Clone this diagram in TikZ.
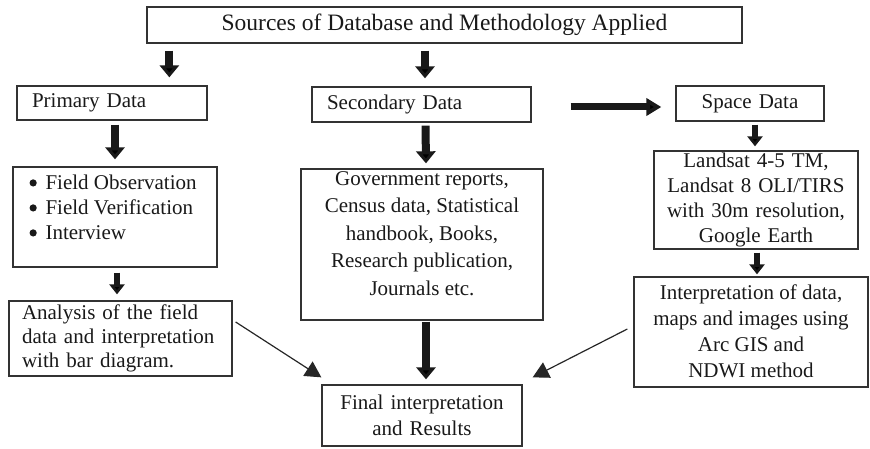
\documentclass[tikz,border=0pt]{standalone}
\usepackage{fontspec}
\setmainfont{Liberation Serif}
\usetikzlibrary{arrows.meta}
\newcommand{\bigdot}{\makebox[16pt][l]{\tikz[baseline=0pt]\fill[black!90] (3.6pt,6.2pt) circle (3.6pt);}}
\begin{document}
\begin{tikzpicture}[x=1pt,y=1pt,
  box/.style={draw=black!80, line width=1.3pt, inner sep=0pt, text=black!90,
    font=\fontsize{21}{25}\selectfont},
  lbox/.style={box, align=left},
  cbox/.style={box, align=center},
  boxtext/.style={inner sep=0pt, text=black!90, font=\fontsize{21}{25}\selectfont},
  bigarrow/.style={draw=black!90, line width=8pt, -{Triangle[length=12pt,width=19pt]}},
  sidearrow/.style={draw=black!90, line width=7pt, -{Triangle[length=15pt,width=17pt]}},
  midarrow/.style={draw=black!90, line width=6pt, -{Triangle[length=10pt,width=15pt]}},
  thinarrow/.style={draw=black!85, line width=1.2pt, -{Triangle[length=16pt,width=17pt]}}
]
\useasboundingbox (0,0) rectangle (870,448);

% boxes
\node[cbox, font=\fontsize{23.5}{28}\selectfont, minimum width=595, minimum height=36]
  (title) at (444.5,423) {Sources of Database and Methodology Applied};
\node[lbox, minimum width=190, minimum height=34, text width=160, inner xsep=15]
  (prim) at (112,345) {Primary Data};
\node[lbox, minimum width=219, minimum height=35, text width=189, inner xsep=15]
  (sec) at (421.5,343.5) {Secondary Data};
\node[cbox, minimum width=148, minimum height=35, text width=140]
  (space) at (750,344.5) {Space Data};

\node[box, minimum width=204, minimum height=100] (bul) at (115,231) {};
\node[boxtext, anchor=north west, align=left] (bultext)
  at ([xshift=17pt,yshift=-8pt]bul.north west)
  {\bigdot Field Observation\\
   \bigdot Field Verification\\
   \bigdot Interview};

\node[box, minimum width=242, minimum height=151] (gov) at (422,203.5) {};
\node[boxtext, anchor=north, align=center, font=\fontsize{21}{27.5}\selectfont] (govtext)
  at ([yshift=-3pt]gov.north)
  {Government reports,\\ Census data, Statistical\\ handbook, Books,\\
   Research publication,\\ Journals etc.};

\node[cbox, minimum width=204, minimum height=98, text width=196]
  (land) at (756,248) {Landsat 4-5 TM,\\ Landsat 8 OLI/TIRS\\ with 30m resolution,\\ Google Earth};
\node[box, minimum width=234, minimum height=110] (interp) at (751,116) {};
\node[boxtext, anchor=north, align=center, font=\fontsize{21}{26}\selectfont] (interptext)
  at ([yshift=-8pt]interp.north)
  {Interpretation of data,\\ maps and images using\\ Arc GIS and\\ NDWI method};
\node[lbox, minimum width=223, minimum height=75, text width=197, inner xsep=13, font=\fontsize{21}{24}\selectfont]
  (ana) at (120.5,109.5) {Analysis of the field\\ data and interpretation\\ with bar diagram.};
\node[cbox, minimum width=200, minimum height=61, text width=192, font=\fontsize{21}{26}\selectfont]
  (final) at (422,32.5) {Final interpretation\\ and Results};

% arrows
\draw[bigarrow] ([xshift=23pt,yshift=-7pt]title.south west) -- ([xshift=153pt,yshift=8pt]prim.north west);
\draw[bigarrow] ([xshift=-19.5pt,yshift=-7pt]title.south) -- ([xshift=3.5pt,yshift=8pt]sec.north);
\draw[bigarrow] ([xshift=3pt,yshift=-4pt]prim.south) -- ([yshift=7pt]bul.north);
\draw[bigarrow] ([xshift=4pt,yshift=-3pt]sec.south) -- ([xshift=4pt,yshift=5pt]gov.north);
\draw[sidearrow] ([xshift=39pt,yshift=-2.5pt]sec.east) -- ([xshift=-14pt,yshift=-3.5pt]space.west);
\draw[midarrow] ([xshift=5pt,yshift=-3pt]space.south) -- ([xshift=-1pt,yshift=4pt]land.north);
\draw[midarrow] ([xshift=2pt,yshift=-5pt]bul.south) -- ([xshift=-3.5pt,yshift=6pt]ana.north);
\draw[midarrow] ([xshift=1pt,yshift=-3pt]land.south) -- ([xshift=6pt,yshift=2pt]interp.north);
\draw[bigarrow] ([xshift=4pt,yshift=-1pt]gov.south) -- ([xshift=4pt,yshift=5pt]final.north);
\draw[thinarrow] ([xshift=3pt,yshift=16.5pt]ana.east) -- ([yshift=7pt]final.north west);
\draw[thinarrow] ([xshift=-6pt,yshift=3pt]interp.west) -- ([xshift=10pt,yshift=7pt]final.north east);
\end{tikzpicture}
\end{document}
